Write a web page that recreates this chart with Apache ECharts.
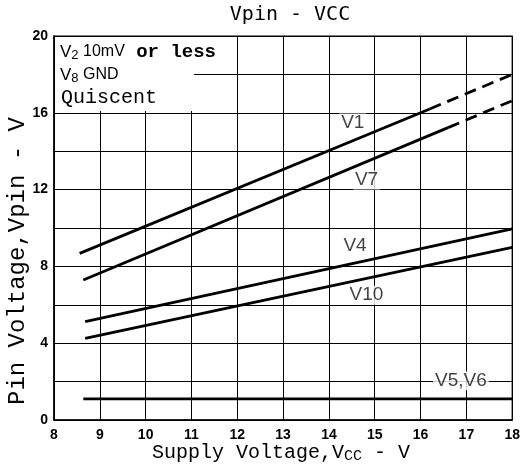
<!DOCTYPE html>
<html><head><meta charset="utf-8">
<script src="https://cdn.jsdelivr.net/npm/echarts@6/dist/echarts.min.js"></script>
<style>html,body{margin:0;padding:0;background:#fff}#c{width:523px;height:471px}</style>
</head><body><div id="c"></div>
<script>
// Axis ranges / ticks
const xTickLabels = [8, 9, 10, 11, 12, 13, 14, 15, 16, 17, 18];
const yTickLabels = [0, 4, 8, 12, 16, 20];

// Series (Supply voltage Vcc -> pin voltage)
const v1X = [8.56, 16.2, 18];      // solid 0-1, dashed 1-2
const v1Y = [8.68, 16.2, 18.0];
const v7X = [8.64, 16.6, 18];      // solid 0-1, dashed 1-2
const v7Y = [7.29, 15.23, 16.63];
const v4X = [8.68, 18];
const v4Y = [5.12, 9.95];
const v10X = [8.68, 18];
const v10Y = [4.25, 8.99];
const v56X = [8.64, 18];
const v56Y = [1.1, 1.1];

// Curve labels and their anchor positions (data coords)
const curveNames = ['V1', 'V7', 'V4', 'V10', 'V5,V6'];
const curveLabelX = [14.52, 14.82, 14.57, 14.82, 16.88];
const curveLabelY = [15.47, 12.5, 9.1, 6.5, 2.05];

function pts(xs, ys, a, b) {
  const out = [];
  for (let i = a; i <= b; i++) out.push([xs[i], ys[i]]);
  return out;
}
const lineStyle = { color: '#000', width: 2.8 };
function lineSeries(data, dashed) {
  return {
    type: 'line', data: data, symbol: 'none', silent: true, animation: false,
    lineStyle: Object.assign({}, lineStyle, dashed ? { type: [12, 7] } : {})
  };
}

const chart = echarts.init(document.getElementById('c'), null, { renderer: 'canvas' });
const tickFont = { fontFamily: 'Liberation Sans', fontWeight: 'bold', fontSize: 14, color: '#000' };
const mono = 'Liberation Mono';

const option = {
  backgroundColor: '#fff',
  animation: false,
  grid: { left: 54, top: 36, right: 2, bottom: 51, show: true, borderColor: '#000', borderWidth: 1.2 },
  xAxis: {
    type: 'value', min: 8, max: 18, interval: 1,
    axisLine: { show: true, lineStyle: { color: '#000', width: 1.5 } },
    axisTick: { show: false },
    splitLine: { show: true, lineStyle: { color: '#000', width: 1 } },
    axisLabel: Object.assign({ margin: 8, formatter: v => xTickLabels.includes(v) ? String(v) : '' }, tickFont)
  },
  yAxis: {
    type: 'value', min: 0, max: 20, interval: 2,
    axisLine: { show: true, lineStyle: { color: '#000', width: 1.5 } },
    axisTick: { show: false },
    splitLine: { show: true, lineStyle: { color: '#000', width: 1 } },
    axisLabel: Object.assign({ margin: 6, formatter: v => yTickLabels.includes(v) ? String(v) : '' }, tickFont)
  },
  series: [
    lineSeries(pts(v1X, v1Y, 0, 1), false),
    lineSeries(pts(v1X, v1Y, 1, 2), true),
    lineSeries(pts(v7X, v7Y, 0, 1), false),
    lineSeries(pts(v7X, v7Y, 1, 2), true),
    lineSeries(pts(v4X, v4Y, 0, 1), false),
    lineSeries(pts(v10X, v10Y, 0, 1), false),
    lineSeries(pts(v56X, v56Y, 0, 1), false),
    {
      type: 'scatter', symbolSize: 0, silent: true, animation: false, z: 5,
      data: curveNames.map((n, i) => ({ value: [curveLabelX[i], curveLabelY[i]], name: n })),
      label: {
        show: true, position: 'inside', formatter: p => p.name,
        fontFamily: 'Liberation Sans', fontSize: 19, color: '#111',
        backgroundColor: '#fff', padding: [0, 2]
      }
    }
  ],
  graphic: [
    { type: 'rect', shape: { x: 55, y: 37, width: 139, height: 74 }, style: { fill: '#fff' }, z: 10 },
    { type: 'text', x: 60, y: 52, z: 11, style: {
        text: '{v|V}{s|2}{t| 10mV}{m| or less}',
        verticalAlign: 'middle',
        rich: {
          v: { fontFamily: 'Liberation Sans', fontSize: 17, color: '#222', lineHeight: 20 },
          s: { fontFamily: 'Liberation Sans', fontSize: 13, color: '#222', lineHeight: 10, verticalAlign: 'bottom' },
          t: { fontFamily: 'Liberation Sans', fontSize: 16, color: '#222', lineHeight: 20 },
          m: { fontFamily: mono, fontWeight: 'bold', fontSize: 19, color: '#000', lineHeight: 20 }
        } } },
    { type: 'text', x: 60, y: 75, z: 11, style: {
        text: '{v|V}{s|8}{t| GND}',
        verticalAlign: 'middle',
        rich: {
          v: { fontFamily: 'Liberation Sans', fontSize: 17, color: '#222', lineHeight: 20 },
          s: { fontFamily: 'Liberation Sans', fontSize: 13, color: '#222', lineHeight: 10, verticalAlign: 'bottom' },
          t: { fontFamily: 'Liberation Sans', fontSize: 16, color: '#222', lineHeight: 20 }
        } } },
    { type: 'text', x: 61, y: 98, z: 11, style: {
        text: 'Quiscent', fontFamily: mono, fontSize: 20, fill: '#000', verticalAlign: 'middle' } },
    { type: 'text', x: 290, y: 15, z: 11, style: {
        text: 'Vpin - VCC', fontFamily: 'DejaVu Sans Mono', fontSize: 20, fill: '#000',
        align: 'center', verticalAlign: 'middle' } },
    { type: 'text', x: 281, y: 453, z: 11, style: {
        text: '{a|Supply Voltage,V}{b|CC}{a| - V}',
        align: 'center', verticalAlign: 'middle',
        rich: {
          a: { fontFamily: mono, fontSize: 20, color: '#000', lineHeight: 22 },
          b: { fontFamily: mono, fontSize: 15, color: '#000', lineHeight: 10, verticalAlign: 'bottom' }
        } } },
    { type: 'text', x: 18, y: 261, rotation: Math.PI / 2, z: 11, style: {
        text: 'Pin Voltage,Vpin - V', fontFamily: mono, fontSize: 24, fill: '#000',
        align: 'center', verticalAlign: 'middle' } }
  ]
};
chart.setOption(option);
</script>
</body></html>
